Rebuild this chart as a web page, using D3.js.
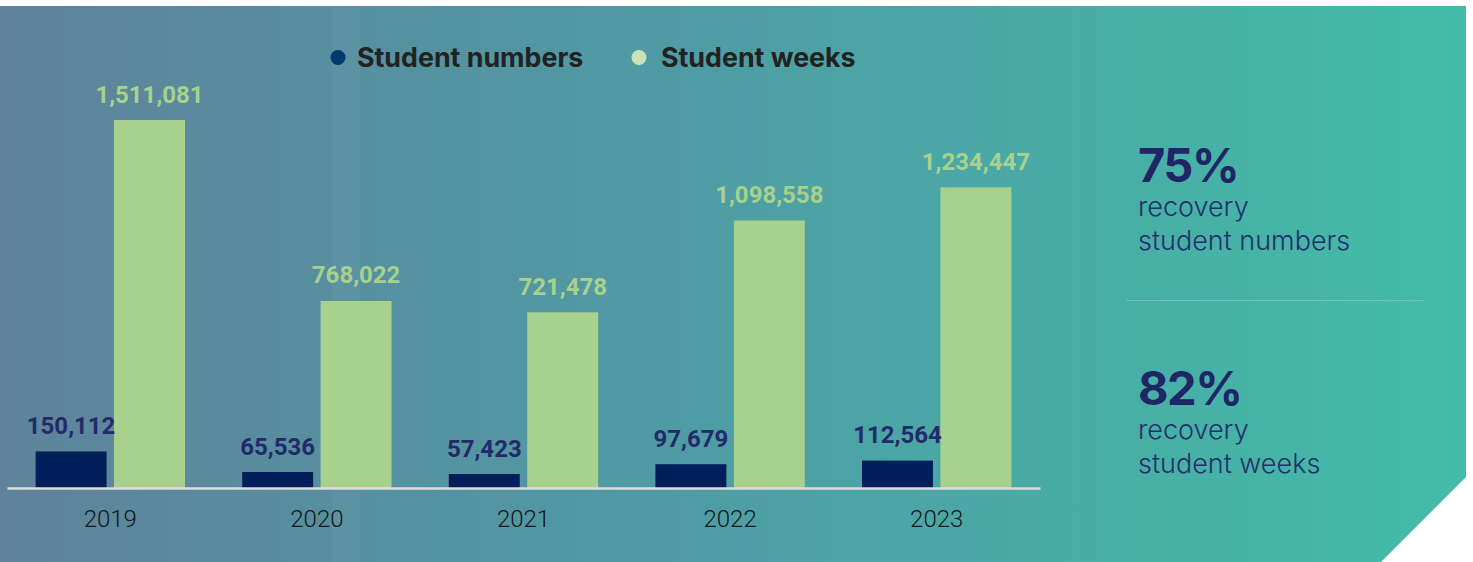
<!DOCTYPE html>
<html>
<head>
<meta charset="utf-8">
<script src="https://cdn.jsdelivr.net/npm/d3@7"></script>
<style>
  body { margin: 0; background: #fff; }
  svg { display: block; }
</style>
</head>
<body>
<div class="chart"></div>
<script>
var years = ["2019", "2020", "2021", "2022", "2023"];
var seriesNames = ["Student numbers", "Student weeks"];
var studentNumbers = [150112, 65536, 57423, 97679, 112564];
var studentWeeks = [1511081, 768022, 721478, 1098558, 1234447];
var seriesColors = ["#001f5b", "#a9d18e"];
var labelColors = ["#232a6a", "#a9d18e"];
var legendDots = ["#003a70", "#c9e2b9"];
var stats = [
  {value: "75%", line1: "recovery", line2: "student numbers"},
  {value: "82%", line1: "recovery", line2: "student weeks"}
];

var W = 1473, H = 562;

var svg = d3.select(".chart").append("svg")
    .attr("width", W)
    .attr("height", H);

// background panel with gradient + cut corner
var defs = svg.append("defs");
var grad = defs.append("linearGradient")
    .attr("id", "bg")
    .attr("x1", "0%").attr("x2", "100%")
    .attr("y1", "0%").attr("y2", "0%");
grad.append("stop").attr("offset", "0%").attr("stop-color", "#5f839a");
grad.append("stop").attr("offset", "45%").attr("stop-color", "#4f9ba4");
grad.append("stop").attr("offset", "100%").attr("stop-color", "#43bca8");

svg.append("path")
    .attr("d", "M0,6 L1466,6 L1466,477 L1381,562 L0,562 Z")
    .attr("fill", "url(#bg)");

// faint lighter stripe
svg.append("rect")
    .attr("x", 332).attr("y", 6)
    .attr("width", 28).attr("height", H - 6)
    .attr("fill", "#ffffff")
    .attr("opacity", 0.035);

var data = years.map(function(y, i) {
  return {year: y, values: [studentNumbers[i], studentWeeks[i]]};
});

var x0 = d3.scaleBand()
    .domain(years)
    .range([7, 1040])
    .paddingInner(0.277)
    .paddingOuter(0.1385);

var x1 = d3.scaleBand()
    .domain([0, 1])
    .range([0, x0.bandwidth()])
    .paddingInner(0.095);

var y = d3.scaleLinear()
    .domain([0, d3.max(studentWeeks)])
    .range([488, 120]);

var groups = svg.selectAll(".grp")
    .data(data)
  .enter().append("g")
    .attr("class", "grp")
    .attr("transform", function(d) { return "translate(" + x0(d.year) + ",0)"; });

groups.selectAll("rect")
    .data(function(d) { return d.values.map(function(v, k) { return {k: k, v: v}; }); })
  .enter().append("rect")
    .attr("x", function(d) { return x1(d.k); })
    .attr("width", x1.bandwidth())
    .attr("y", function(d) { return y(d.v); })
    .attr("height", function(d) { return y(0) - y(d.v); })
    .attr("fill", function(d) { return seriesColors[d.k]; });

groups.selectAll("text.val")
    .data(function(d) { return d.values.map(function(v, k) { return {k: k, v: v}; }); })
  .enter().append("text")
    .attr("class", "val")
    .attr("x", function(d) { return x1(d.k) + x1.bandwidth() / 2; })
    .attr("y", function(d) { return y(d.v) - 17.5; })
    .attr("text-anchor", "middle")
    .style("font-family", "Roboto, sans-serif")
    .style("font-weight", 700)
    .style("font-size", "24px")
    .attr("fill", function(d) { return labelColors[d.k]; })
    .text(function(d) { return d3.format(",")(d.v); });

// x axis
var xAxis = d3.axisBottom(x0).tickSize(0).tickPadding(0);
var gx = svg.append("g")
    .attr("transform", "translate(0,488)")
    .call(xAxis);
gx.select(".domain")
    .attr("stroke", "#dcdcdc")
    .attr("stroke-width", 2.5);
gx.selectAll(".tick text")
    .attr("dy", 0)
    .attr("y", 39)
    .style("font-family", "Roboto, sans-serif")
    .style("font-weight", 300)
    .style("font-size", "24px")
    .attr("fill", "#151515");

// legend
var legendX = [338, 639];
var leg = svg.selectAll(".leg")
    .data(seriesNames)
  .enter().append("g")
    .attr("class", "leg")
    .attr("transform", function(d, i) { return "translate(" + legendX[i] + ",57.5)"; });
leg.append("circle")
    .attr("r", 7.5)
    .attr("fill", function(d, i) { return legendDots[i]; });
leg.append("text")
    .attr("x", function(d, i) { return i === 0 ? 19 : 22; })
    .attr("y", 9.5)
    .style("font-family", "Inter, sans-serif")
    .style("font-weight", 700)
    .style("font-size", "26.8px")
    .attr("fill", "#222222")
    .text(function(d) { return d; });

// right side stats
var statY = [182, 405];
var st = svg.selectAll(".stat")
    .data(stats)
  .enter().append("g")
    .attr("class", "stat")
    .attr("transform", function(d, i) { return "translate(1138," + statY[i] + ")"; });
st.append("text")
    .style("font-family", "Inter, sans-serif")
    .style("font-weight", 700)
    .style("font-size", "47px")
    .style("letter-spacing", "-1.5px")
    .attr("fill", "#1f2666")
    .text(function(d) { return d.value; });
st.append("text")
    .attr("y", 34)
    .style("font-family", "Inter, sans-serif")
    .style("font-weight", 300)
    .style("font-size", "27px")
    .attr("fill", "#23306b")
    .text(function(d) { return d.line1; });
st.append("text")
    .attr("y", 67.5)
    .style("font-family", "Inter, sans-serif")
    .style("font-weight", 300)
    .style("font-size", "27px")
    .attr("fill", "#23306b")
    .text(function(d) { return d.line2; });

svg.append("line")
    .attr("x1", 1126).attr("x2", 1425)
    .attr("y1", 300.5).attr("y2", 300.5)
    .attr("stroke", "#7ec4cf")
    .attr("stroke-width", 1)
    .attr("opacity", 0.8);
</script>
</body>
</html>
